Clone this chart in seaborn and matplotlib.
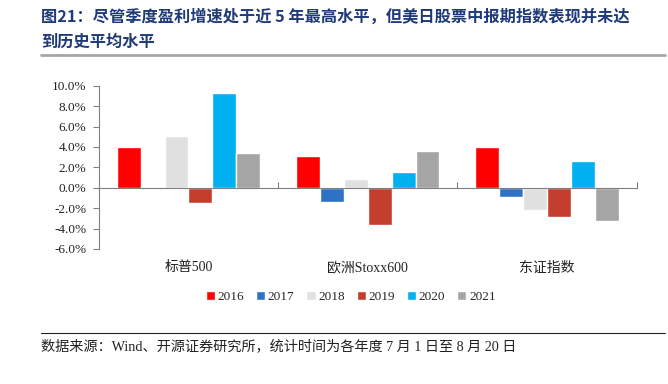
import matplotlib
matplotlib.use("Agg")
import matplotlib.pyplot as plt
from matplotlib.lines import Line2D
from matplotlib.ticker import FixedLocator
import seaborn as sns
import pandas as pd

categories = ["标普500", "欧洲Stoxx600", "东证指数"]
years = ["2016", "2017", "2018", "2019", "2020", "2021"]
values = {
    "2016": [4.0, 3.1, 4.0],
    "2017": [0.1, -1.4, -0.9],
    "2018": [5.1, 0.9, -2.2],
    "2019": [-1.5, -3.6, -2.9],
    "2020": [9.25, 1.5, 2.65],
    "2021": [3.4, 3.6, -3.3],
}
colors = ["#FF0000", "#2E72C6", "#E0E0E0", "#C43E2E", "#00B0F0", "#A5A5A5"]
yticks = [-6, -4, -2, 0, 2, 4, 6, 8, 10]

rows = []
for y in years:
    for c, v in zip(categories, values[y]):
        rows.append({"cat": c, "year": y, "value": v})
df = pd.DataFrame(rows)

sns.set_style("white")
plt.rcParams["font.family"] = ["Liberation Serif", "Noto Sans CJK SC"]

fig = plt.figure(figsize=(6.68, 3.84), dpi=100)
ax = fig.add_axes([0.148, 0.3516, 0.805, 0.425])

sns.barplot(data=df, x="cat", y="value", hue="year", order=categories,
            hue_order=years, palette=colors, width=0.8, saturation=1,
            ax=ax, legend=True)

ax.set_xlim(-0.5, 2.5)
ax.set_ylim(-6, 10)
ax.set_yticks(yticks)
ax.set_yticklabels([f"{v:.1f}%" for v in yticks], fontsize=9.5)
ax.set_xlabel("")
ax.set_ylabel("")

for s in ["top", "right"]:
    ax.spines[s].set_visible(False)
ax.spines["left"].set_color("#808080")
ax.spines["bottom"].set_position(("data", 0))
ax.spines["bottom"].set_color("#7F7F7F")
ax.tick_params(axis="y", direction="out", length=4, color="#808080",
               left=True, pad=5, labelcolor="#222222")
ax.tick_params(axis="x", which="major", length=0, pad=53, labelsize=10,
               labelcolor="#222222")
ax.xaxis.set_minor_locator(FixedLocator([0.5, 1.5, 2.5]))
ax.tick_params(axis="x", which="minor", direction="in", length=4,
               color="#555555", bottom=True)

handles, labels = ax.get_legend_handles_labels()
ax.get_legend().remove()
fig.legend(handles, labels, loc="center", bbox_to_anchor=(0.525, 0.227),
           ncol=6, frameon=False, handlelength=0.7, handleheight=0.7,
           handletextpad=0.2, columnspacing=0.9, fontsize=9.5)

title_color = "#1F3A78"
fig.text(0.061, 0.956, "图21：尽管季度盈利增速处于近 5 年最高水平，但美日股票中报期指数表现并未达",
         fontsize=11.7, fontweight="bold", color=title_color, va="center", ha="left",
         family=["Noto Sans CJK SC", "DejaVu Sans"])
fig.text(0.061, 0.891, "到历史平均水平",
         fontsize=11.7, fontweight="bold", color=title_color, va="center", ha="left",
         family=["Noto Sans CJK SC", "DejaVu Sans"])
fig.add_artist(Line2D([0.061, 0.995], [0.857, 0.857], transform=fig.transFigure,
                      color="#A6A6A6", linewidth=2))
fig.add_artist(Line2D([0.061, 0.995], [0.133, 0.133], transform=fig.transFigure,
                      color="#222222", linewidth=0.8))
fig.text(0.061, 0.099, "数据来源：Wind、开源证券研究所，统计时间为各年度 7 月 1 日至 8 月 20 日",
         fontsize=10.2, color="#222222", va="center", ha="left",
         family=["Liberation Serif", "Noto Sans CJK SC"])

fig.savefig("out.png", dpi=100)
